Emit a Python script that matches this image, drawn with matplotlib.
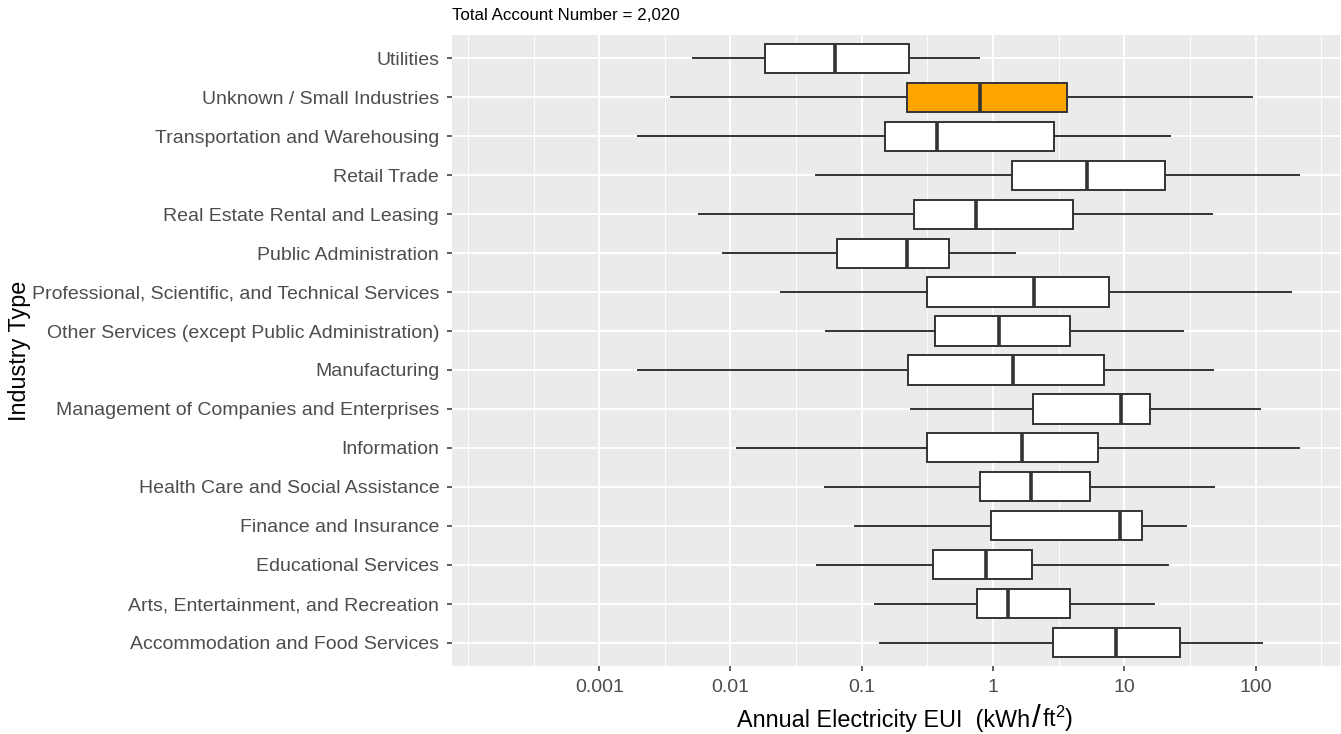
import matplotlib
matplotlib.use("Agg")
import matplotlib.pyplot as plt
from matplotlib.offsetbox import TextArea, HPacker, AnchoredOffsetbox
import numpy as np

plt.rcParams["font.family"] = ["Liberation Sans", "DejaVu Sans"]
plt.rcParams["mathtext.fontset"] = "custom"
plt.rcParams["mathtext.rm"] = "Liberation Sans"
plt.rcParams["mathtext.it"] = "Liberation Sans:italic"

# Industries, bottom to top
industries = [
    "Accommodation and Food Services",
    "Arts, Entertainment, and Recreation",
    "Educational Services",
    "Finance and Insurance",
    "Health Care and Social Assistance",
    "Information",
    "Management of Companies and Enterprises",
    "Manufacturing",
    "Other Services (except Public Administration)",
    "Professional, Scientific, and Technical Services",
    "Public Administration",
    "Real Estate Rental and Leasing",
    "Retail Trade",
    "Transportation and Warehousing",
    "Unknown / Small Industries",
    "Utilities",
]

# Box statistics of annual electricity EUI (kWh/ft2)
whisker_low = [0.137, 0.126, 0.0456, 0.0883, 0.0525, 0.0112, 0.237, 0.00197,
               0.0538, 0.0241, 0.00875, 0.00578, 0.0446, 0.00197, 0.00352, 0.0052]
q1 = [2.85, 0.759, 0.348, 0.964, 0.796, 0.313, 2.03, 0.225,
      0.36, 0.313, 0.0652, 0.25, 1.39, 0.149, 0.22, 0.0184]
median = [8.69, 1.30, 0.887, 9.2, 1.95, 1.65, 9.35, 1.43,
          1.10, 2.06, 0.221, 0.746, 5.17, 0.376, 0.79, 0.062]
q3 = [26.3, 3.83, 1.98, 13.6, 5.51, 6.3, 15.6, 7.0,
      3.83, 7.67, 0.461, 4.06, 20.5, 2.92, 3.65, 0.227]
whisker_high = [111, 16.9, 21.4, 29.5, 48.4, 214, 108, 47.2,
                28.1, 186, 1.47, 46.1, 214, 22.4, 93.7, 0.78]

highlight = "Unknown / Small Industries"

x_breaks = [0.001, 0.01, 0.1, 1, 10, 100]
x_labels = ["0.001", "0.01", "0.1", "1", "10", "100"]
x_minor = [10 ** -4, 10 ** -3.5, 10 ** -2.5, 10 ** -1.5, 10 ** -0.5,
           10 ** 0.5, 10 ** 1.5, 10 ** 2.5]

total_accounts = 2020

fig = plt.figure(figsize=(13.41, 7.34), dpi=100)
W, H = 1341, 734
ax = fig.add_axes([452 / W, 1 - 666 / H, (1340 - 452) / W, (666 - 35) / H])
ax.set_facecolor("#EBEBEB")
for s in ax.spines.values():
    s.set_visible(False)

stats = []
for i, name in enumerate(industries):
    stats.append(dict(label=name, whislo=whisker_low[i], q1=q1[i], med=median[i],
                      q3=q3[i], whishi=whisker_high[i], fliers=[]))

positions = np.arange(1, len(industries) + 1)
line_col = "#333333"
bp = ax.bxp(stats, positions=positions, widths=0.75, orientation="horizontal",
            patch_artist=True, showcaps=False, showfliers=False,
            boxprops=dict(edgecolor=line_col, linewidth=1.4, facecolor="white"),
            whiskerprops=dict(color=line_col, linewidth=1.4),
            medianprops=dict(color=line_col, linewidth=2.6, solid_capstyle="butt"),
            zorder=3)
for patch, name in zip(bp["boxes"], industries):
    if name == highlight:
        patch.set_facecolor("#FFA500")

ax.set_xscale("log")
ax.set_xlim(10 ** -4.121, 10 ** 2.642)
ax.set_ylim(0.4, len(industries) + 0.6)

ax.set_xticks(x_breaks)
ax.set_xticklabels(x_labels)
ax.set_xticks(x_minor, minor=True)
ax.xaxis.set_minor_formatter(matplotlib.ticker.NullFormatter())
ax.set_yticks(positions)
ax.set_yticklabels(industries)

ax.grid(True, which="major", color="white", linewidth=1.4, zorder=0)
ax.grid(True, which="minor", axis="x", color="white", linewidth=0.7, zorder=0)
ax.set_axisbelow(True)

ax.tick_params(axis="both", which="major", length=3.7, width=1.1, color=line_col,
               labelsize=14, labelcolor="#4D4D4D")
ax.tick_params(axis="x", which="major", pad=5.5)
ax.tick_params(axis="y", which="major", pad=5.5)
ax.tick_params(axis="x", which="minor", length=0)

# x-axis title with a tall slash between the units
title_size = 16.8
parts = [
    TextArea("Annual Electricity EUI  (kWh", textprops=dict(fontsize=title_size, color="black")),
    TextArea("/", textprops=dict(fontsize=title_size * 1.35, color="black")),
    TextArea("ft$^{2}$)", textprops=dict(fontsize=title_size, color="black")),
]
xtitle = HPacker(children=parts, align="baseline", pad=0, sep=1)
anchored = AnchoredOffsetbox(loc="center", child=xtitle, frameon=False, pad=0,
                             bbox_to_anchor=(905 / W, 1 - 719 / H),
                             bbox_transform=fig.transFigure, borderpad=0)
fig.add_artist(anchored)

ax.set_ylabel("Industry Type", fontsize=title_size, color="black")
ax.yaxis.set_label_coords(-0.474, 0.5)

fig.text(452 / W, 1 - 16 / H, f"Total Account Number = {total_accounts:,}",
         fontsize=12.2, color="black", ha="left", va="center")

fig.savefig("out.png", dpi=100)
